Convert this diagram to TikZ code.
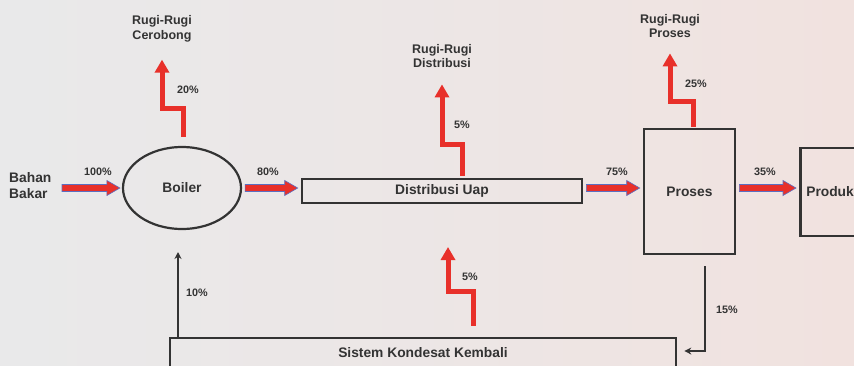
\documentclass[tikz,border=0pt]{standalone}
\usepackage{fontspec}
\setmainfont{Liberation Sans}
\usetikzlibrary{arrows.meta,calc,shapes.geometric}
\definecolor{ink}{HTML}{333333}
\definecolor{flowred}{HTML}{E8302A}
\definecolor{flowblue}{HTML}{5B6FC2}
\definecolor{bgL}{HTML}{E9E9EA}
\definecolor{bgR}{HTML}{F1E2DF}
\tikzset{
  every node/.style={font=\bfseries, text=ink},
  mainbox/.style={draw=ink, line width=2.6pt, inner sep=0pt, font=\bfseries\fontsize{13.8}{16}\selectfont},
  pct/.style={font=\bfseries\fontsize{10.8}{13}\selectfont},
  loss/.style={align=center, font=\bfseries\fontsize{12.5}{14.5}\selectfont},
  redstep/.style={draw=flowred, line width=5pt, -{Triangle[width=14pt,length=13pt]}},
  thinarr/.style={draw=ink, line width=1.2pt, -{Stealth[width=7pt,length=7pt]}},
  fatstyle/.style={fill=flowred, draw=flowblue, line width=0.6pt},
}
\def\ay{-188pt}
\newcommand\fatarr[2]{%
  \filldraw[fatstyle] let \p1=(#1), \p2=(#2) in
    (\x1,\ay+3.5pt) -- (\x2-13pt,\ay+3.5pt) -- (\x2-13pt,\ay+7.5pt) -- (\x2,\ay)
    -- (\x2-13pt,\ay-7.5pt) -- (\x2-13pt,\ay-3.5pt) -- (\x1,\ay-3.5pt) -- cycle;}
\begin{document}
\begin{tikzpicture}[x=1pt,y=-1pt]
\useasboundingbox (0,0) rectangle (854,365);
\shade[left color=bgL, right color=bgR, middle color=bgL!60!bgR] (0,0) rectangle (854,365);

% main nodes
\node[mainbox, ellipse, minimum width=118pt, minimum height=82pt, line width=2.2pt] (boiler) at (182,188) {Boiler};
\node[mainbox, minimum width=280pt, minimum height=24pt] (dist) at (442,191) {Distribusi Uap};
\node[mainbox, minimum width=91pt, minimum height=125pt] (proses) at (689.5,191.5) {Proses};
\node[mainbox, minimum width=90pt, minimum height=88pt, anchor=west, text width=80pt, align=left] (produk) at (799,192) {\hspace*{1pt}Produk};
\node[mainbox, minimum width=506pt, minimum height=30pt] (sk) at (423,353) {Sistem Kondesat Kembali};
\node[anchor=west, align=left, font=\bfseries\fontsize{13.8}{16}\selectfont, inner sep=0pt] (bb) at (9,186) {Bahan\\Bakar};

% loss labels
\node[loss] (rc) at (162,29) {Rugi-Rugi\\Cerobong};
\node[loss] (rd) at (442,56) {Rugi-Rugi\\Distribusi};
\node[loss] (rp) at (670,26) {Rugi-Rugi\\Proses};

% free ends
\coordinate (fuel) at (62,188);
\coordinate (b10) at (178,252);
\coordinate (ret) at (448,247);

% horizontal flows
\fatarr{fuel}{$(boiler.west)+(-2pt,0)$}
\fatarr{$(boiler.east)+(3pt,0)$}{$(dist.west)+(-3pt,0)$}
\fatarr{$(dist.east)+(3pt,0)$}{$(proses.west)+(-3pt,0)$}
\fatarr{$(proses.east)+(3pt,0)$}{$(produk.west)+(-3pt,0)$}

\node[pct] at (98,172) {100\%};
\node[pct] at (268,172) {80\%};
\node[pct] at (617,172) {75\%};
\node[pct] at (765,172) {35\%};

% losses (red step arrows)
\draw[redstep] ([xshift=1pt,yshift=9pt]boiler.north) -- ++(0,-28) -| ([yshift=-14pt]rc.south);
\draw[redstep] ([xshift=20pt,yshift=2pt]dist.north) -- ++(0,-31) -| ([yshift=-13pt]rd.south);
\draw[redstep] ([xshift=3.5pt,yshift=1pt]proses.north) -- ++(0,-25) -| ([yshift=-12pt]rp.south);
\draw[redstep] ([xshift=50pt,yshift=11pt]sk.north) -- ++(0,-34) -| (ret);

\node[pct] at (188,90) {20\%};
\node[pct] at (462,125) {5\%};
\node[pct] at (470,277) {5\%};
\node[pct] at (696,84) {25\%};

% condensate return lines
\draw[thinarr] (b10 |- sk.north) -- (b10);
\draw[thinarr] ([xshift=15.5pt,yshift=-11pt]proses.south) |- ([xshift=7pt,yshift=2pt]sk.east);
\node[pct] at (197,293) {10\%};
\node[pct] at (727,310) {15\%};
\end{tikzpicture}
\end{document}
